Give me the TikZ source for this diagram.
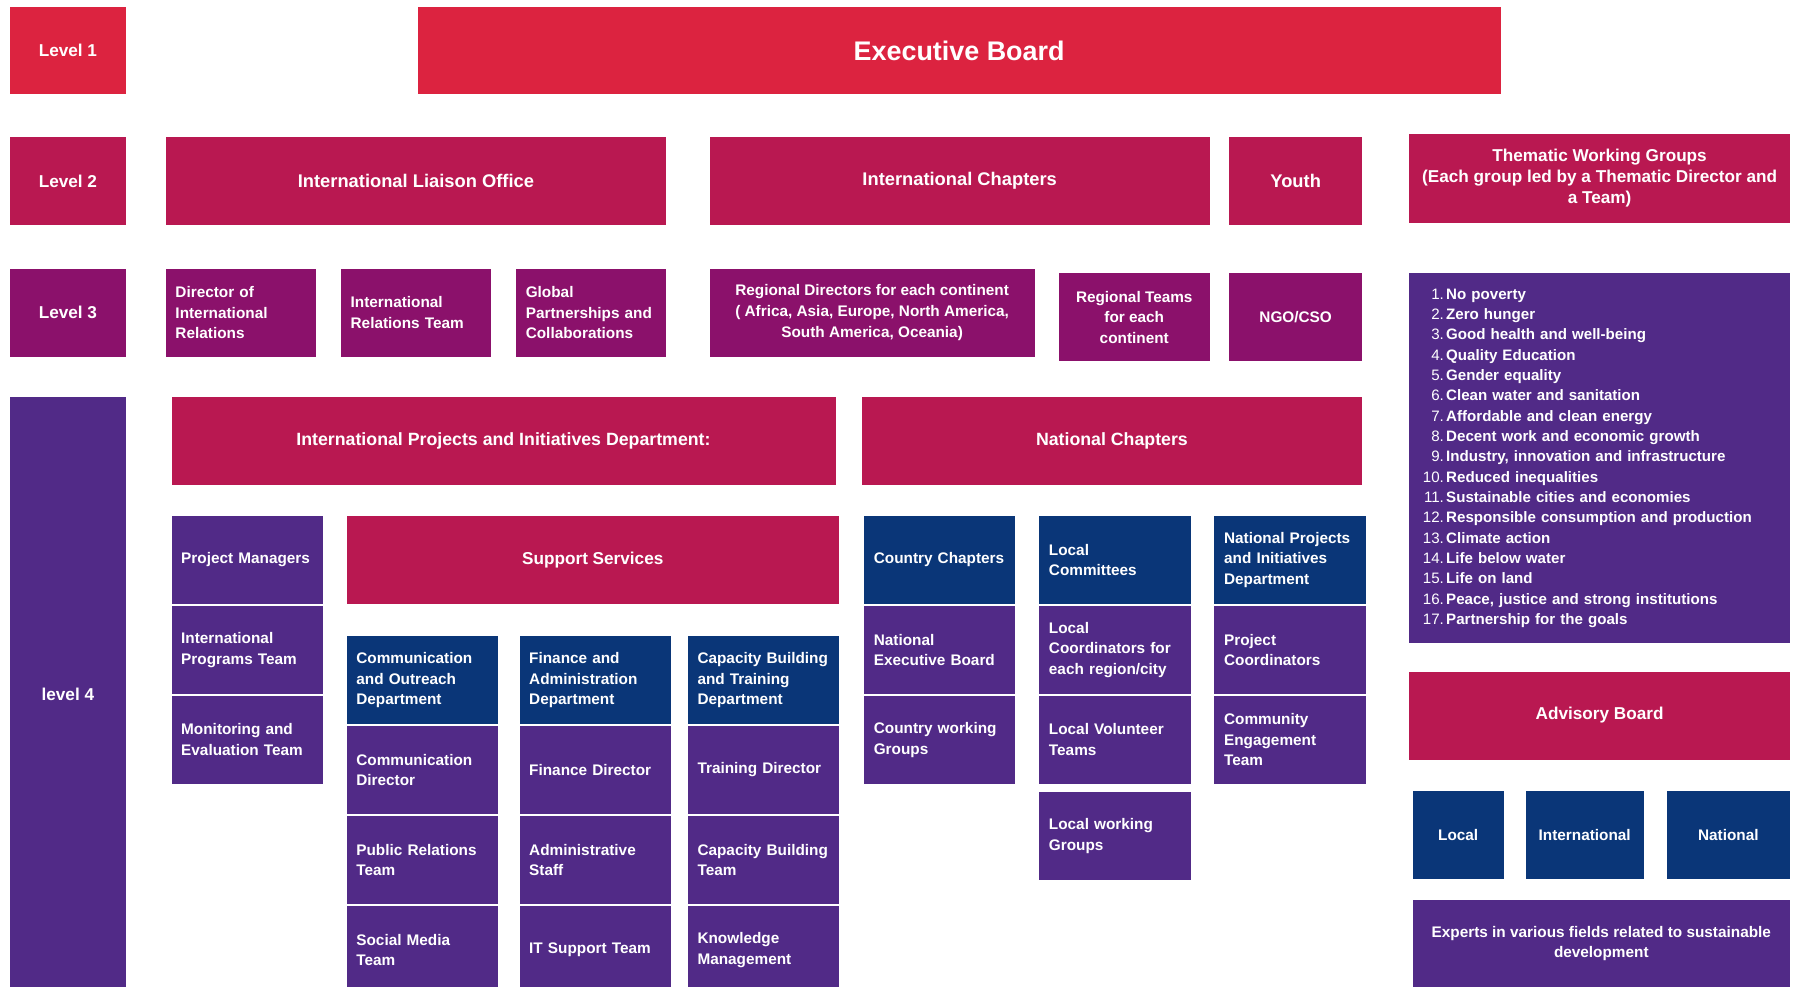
\documentclass[tikz,border=0pt]{standalone}
\usepackage{fontspec}
\setmainfont{Liberation Sans}
\usetikzlibrary{positioning}
\definecolor{cRed}{RGB}{220,35,64}
\definecolor{cCrimson}{RGB}{185,24,81}
\definecolor{cMagenta}{RGB}{139,17,107}
\definecolor{cPurple}{RGB}{81,42,135}
\definecolor{cNavy}{RGB}{10,54,120}
\newcommand{\sdg}[2]{\makebox[23pt][r]{\mdseries #1.}\hspace{2pt}#2}

\begin{document}
\begin{tikzpicture}[x=1pt, y=-1pt,
		box/.style={draw=white, line width=0.6pt, anchor=north west, inner sep=0pt, text=white, minimum height=77.5pt, font=\bfseries\fontsize{13.4}{18}\selectfont},
		lvl/.style={box, minimum width=102pt, font=\bfseries\fontsize{15}{18}\selectfont},
		head/.style={box, align=center, font=\bfseries\fontsize{15.5}{18}\selectfont},
		mid/.style={box, align=center},
		cell/.style={box, inner xsep=9pt, text width=115pt, align=left}]
	\useasboundingbox (0,0) rectangle (1568,862);
	\clip (0,0) rectangle (1568,862);
	% level column
	\node[lvl, fill=cRed] (lvA) at (8,5) {Level 1};
	\node[lvl, fill=cCrimson] (lvB) at (8,119) {Level 2};
	\node[lvl, fill=cMagenta] (lvC) at (8,234) {Level 3};
	\node[lvl, fill=cPurple, minimum height=520pt] (lvD) at (8,346) {level 4};
	% level 1 and 2
	\node[head, fill=cRed, minimum width=947pt, font=\bfseries\fontsize{23.5}{28}\selectfont] (exec) at (364,5) {Executive Board};
	\node[head, fill=cCrimson, minimum width=438pt, font=\bfseries\fontsize{16}{18}\selectfont] (ilo) at (144,119) {International Liaison Office};
	\node[head, fill=cCrimson, minimum width=438pt, font=\bfseries\fontsize{16}{18}\selectfont] (ich) at (619,119) {International Chapters};
	\node[head, fill=cCrimson, minimum width=117pt, font=\bfseries\fontsize{16}{18}\selectfont] (youth) at (1073,119) {Youth};
	\node[head, fill=cCrimson, minimum width=334pt, minimum height=79pt, font=\bfseries\fontsize{15}{18.5}\selectfont] (twg) at (1230,116) {Thematic Working Groups\\(Each group led by a Thematic Director and\\a Team)};
	% level 3
	\node[cell, fill=cMagenta, text width=114pt] (dir) at (144,234) {Director of\\International\\Relations};
	\node[cell, fill=cMagenta, text width=114pt] (irt) at (297,234) {International\\Relations Team};
	\node[cell, fill=cMagenta, text width=114pt] (gpc) at (450,234) {Global\\Partnerships and\\Collaborations};
	\node[mid, fill=cMagenta, minimum width=285pt] (rdir) at (619,234) {Regional Directors for each continent\\( Africa, Asia, Europe, North America,\\South America, Oceania)};
	\node[mid, fill=cMagenta, minimum width=133pt] (rteam) at (924,238) {Regional Teams\\for each\\continent};
	\node[mid, fill=cMagenta, minimum width=117pt] (ngo) at (1073,238) {NGO/CSO};
	\node[box, fill=cPurple, minimum width=334pt, minimum height=324pt, inner xsep=8pt, text width=318pt, align=left, font=\bfseries\fontsize{13.2}{17.75}\selectfont] (sdgs) at (1230,238) {%
		\sdg{1}{No poverty}\\\sdg{2}{Zero hunger}\\\sdg{3}{Good health and well-being}\\
		\sdg{4}{Quality Education}\\\sdg{5}{Gender equality}\\\sdg{6}{Clean water and sanitation}\\
		\sdg{7}{Affordable and clean energy}\\\sdg{8}{Decent work and economic growth}\\
		\sdg{9}{Industry, innovation and infrastructure}\\\sdg{10}{Reduced inequalities}\\
		\sdg{11}{Sustainable cities and economies}\\\sdg{12}{Responsible consumption and production}\\
		\sdg{13}{Climate action}\\\sdg{14}{Life below water}\\\sdg{15}{Life on land}\\
		\sdg{16}{Peace, justice and strong institutions}\\\sdg{17}{Partnership for the goals}};
	% level 4
	\node[head, fill=cCrimson, minimum width=581pt] (ipid) at (149,346) {International Projects and Initiatives Department:};
	\node[head, fill=cCrimson, minimum width=438pt] (nch) at (752,346) {National Chapters};
	\node[cell, fill=cPurple] (pm) at (149,450) {Project Managers};
	\node[cell, fill=cPurple, below=0.5pt of pm] (ipt) {International\\Programs Team};
	\node[cell, fill=cPurple, below=0.5pt of ipt] (met) {Monitoring and\\Evaluation Team};
	\node[head, fill=cCrimson, minimum width=431pt, font=\bfseries\fontsize{15}{18}\selectfont] (ss) at (302,450) {Support Services};
	\node[cell, fill=cNavy] (cod) at (302,555) {Communication\\and Outreach\\Department};
	\node[cell, fill=cPurple, below=0.5pt of cod] (cdir) {Communication\\Director};
	\node[cell, fill=cPurple, below=0.5pt of cdir] (prt) {Public Relations\\Team};
	\node[cell, fill=cPurple, below=0.5pt of prt] (smt) {Social Media\\Team};
	\node[cell, fill=cNavy] (fad) at (453,555) {Finance and\\Administration\\Department};
	\node[cell, fill=cPurple, below=0.5pt of fad] (fdir) {Finance Director};
	\node[cell, fill=cPurple, below=0.5pt of fdir] (ast) {Administrative\\Staff};
	\node[cell, fill=cPurple, below=0.5pt of ast] (its) {IT Support Team};
	\node[cell, fill=cNavy] (cbd) at (600,555) {Capacity Building\\and Training\\Department};
	\node[cell, fill=cPurple, below=0.5pt of cbd] (tdir) {Training Director};
	\node[cell, fill=cPurple, below=0.5pt of tdir] (cbt) {Capacity Building\\Team};
	\node[cell, fill=cPurple, below=0.5pt of cbt] (kmg) {Knowledge\\Management};
	\node[cell, fill=cNavy] (cch) at (754,450) {Country Chapters};
	\node[cell, fill=cPurple, below=0.5pt of cch] (neb) {National\\Executive Board};
	\node[cell, fill=cPurple, below=0.5pt of neb] (cwg) {Country working\\Groups};
	\node[cell, fill=cNavy] (lcm) at (907,450) {Local\\Committees};
	\node[cell, fill=cPurple, below=0.5pt of lcm] (lco) {Local\\Coordinators for\\each region/city};
	\node[cell, fill=cPurple, below=0.5pt of lco] (lvt) {Local Volunteer\\Teams};
	\node[cell, fill=cPurple, below=6pt of lvt] (lwg) {Local working\\Groups};
	\node[cell, fill=cNavy] (npd) at (1060,450) {National Projects\\and Initiatives\\Department};
	\node[cell, fill=cPurple, below=0.5pt of npd] (pco) {Project\\Coordinators};
	\node[cell, fill=cPurple, below=0.5pt of pco] (cet) {Community\\Engagement\\Team};
	% advisory board
	\node[head, fill=cCrimson, minimum width=334pt, font=\bfseries\fontsize{15}{18}\selectfont] (adv) at (1230,586) {Advisory Board};
	\node[mid, fill=cNavy, minimum width=81pt] (loc) at (1233,690) {Local};
	\node[mid, fill=cNavy, minimum width=104pt] (intl) at (1332,690) {International};
	\node[mid, fill=cNavy, minimum width=109pt] (nat) at (1455,690) {National};
	\node[mid, fill=cPurple, minimum width=331pt] (exp) at (1233,785) {Experts in various fields related to sustainable\\development};
\end{tikzpicture}
\end{document}
